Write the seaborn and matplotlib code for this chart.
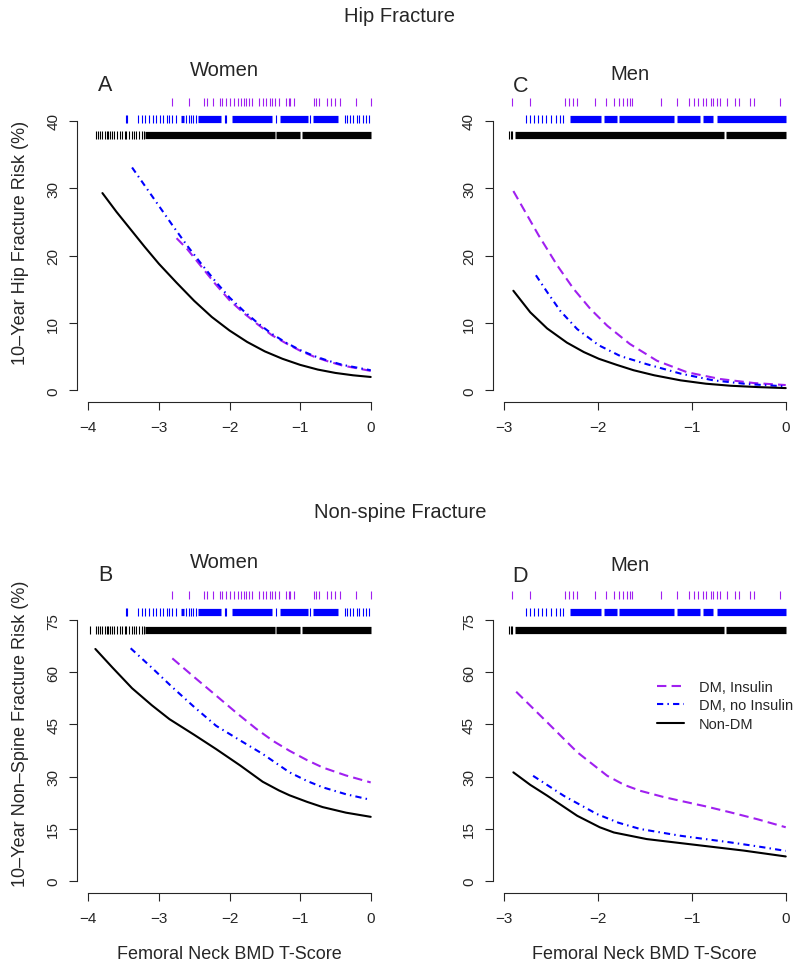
import matplotlib
matplotlib.use("Agg")
import pandas as pd
import seaborn as sns
import matplotlib.pyplot as plt
from matplotlib.lines import Line2D

# groups / styling
groups = ["DM, Insulin", "DM, no Insulin", "Non-DM"]
palette = {"DM, Insulin": "#A020F0", "DM, no Insulin": "#0000FF", "Non-DM": "black"}
dash_map = {"DM, Insulin": (4.5, 2.5), "DM, no Insulin": (3, 2, 0.7, 2), "Non-DM": ""}

# --- Hip fracture, women (panel A)
hip_w_ins_x = [-2.75, -2.6, -2.4, -2.2, -2.0, -1.8, -1.6, -1.4, -1.2, -1.0, -0.8, -0.6, -0.4, -0.2, 0.0]
hip_w_ins_y = [22.6, 21.0, 18.4, 15.8, 13.4, 11.5, 9.8, 8.2, 7.0, 5.9, 5.0, 4.3, 3.7, 3.3, 2.9]
hip_w_noins_x = [-3.38, -3.2, -3.0, -2.8, -2.6, -2.4, -2.2, -2.0, -1.8, -1.6, -1.4, -1.2, -1.0,
                 -0.8, -0.6, -0.4, -0.2, 0.0]
hip_w_noins_y = [33.1, 30.4, 27.4, 24.4, 21.5, 18.8, 16.2, 13.8, 11.8, 10.0, 8.4, 7.1, 6.0,
                 5.1, 4.4, 3.8, 3.4, 3.0]
hip_w_non_x = [-3.80, -3.60, -3.40, -3.20, -3.00, -2.75, -2.50, -2.25, -2.00, -1.75, -1.50,
               -1.25, -1.00, -0.75, -0.50, -0.25, 0.0]
hip_w_non_y = [29.3, 26.5, 23.9, 21.3, 18.8, 16.0, 13.3, 10.9, 8.9, 7.2, 5.8,
               4.7, 3.8, 3.1, 2.6, 2.25, 2.0]

# --- Hip fracture, men (panel C)
hip_m_ins_x = [-2.90, -2.63, -2.43, -2.26, -2.08, -1.90, -1.66, -1.37, -1.05, -0.70, -0.34, 0.0]
hip_m_ins_y = [29.6, 23.0, 18.5, 15.1, 12.1, 9.6, 6.9, 4.4, 2.7, 1.7, 1.1, 0.8]
hip_m_noins_x = [-2.66, -2.54, -2.40, -2.22, -1.99, -1.76, -1.48, -1.12, -0.77, -0.41, 0.0]
hip_m_noins_y = [17.1, 14.6, 11.8, 9.1, 6.7, 5.1, 3.9, 2.5, 1.5, 0.95, 0.6]
hip_m_non_x = [-2.90, -2.72, -2.54, -2.33, -2.15, -1.99, -1.80, -1.62, -1.40, -1.12, -0.85,
               -0.59, -0.30, 0.0]
hip_m_non_y = [14.8, 11.6, 9.2, 7.1, 5.7, 4.7, 3.8, 3.0, 2.25, 1.5, 1.0, 0.7, 0.5, 0.35]

# --- Non-spine fracture, women (panel B)
ns_w_ins_x = [-2.81, -2.5, -2.19, -1.9, -1.62, -1.38, -1.15, -0.9, -0.68, -0.35, 0.0]
ns_w_ins_y = [64.0, 58.6, 53.3, 48.3, 43.7, 40.2, 37.4, 34.7, 32.6, 30.3, 28.3]
ns_w_noins_x = [-3.40, -3.1, -2.81, -2.5, -2.19, -1.85, -1.53, -1.15, -0.9, -0.68, -0.35, 0.0]
ns_w_noins_y = [66.9, 61.3, 55.7, 50.0, 44.6, 40.4, 36.5, 31.2, 28.7, 26.9, 24.9, 23.3]
ns_w_non_x = [-3.90, -3.66, -3.38, -3.10, -2.85, -2.50, -2.19, -1.85, -1.53, -1.30, -1.15,
              -0.90, -0.68, -0.35, 0.0]
ns_w_non_y = [66.7, 61.4, 55.4, 50.5, 46.5, 42.0, 37.9, 33.2, 28.5, 26.0, 24.6, 22.7, 21.2,
              19.6, 18.4]

# --- Non-spine fracture, men (panel D)
ns_m_ins_x = [-2.87, -2.54, -2.22, -1.90, -1.72, -1.55, -1.30, -1.12, -0.85, -0.59, -0.30, 0.0]
ns_m_ins_y = [54.4, 45.6, 37.0, 30.2, 27.6, 25.9, 24.1, 23.0, 21.4, 19.7, 17.7, 15.4]
ns_m_noins_x = [-2.69, -2.36, -2.01, -1.78, -1.55, -1.12, -0.59, -0.30, 0.0]
ns_m_noins_y = [30.2, 24.4, 19.2, 16.7, 14.9, 12.95, 11.05, 9.9, 8.6]
ns_m_non_x = [-2.90, -2.72, -2.54, -2.22, -1.98, -1.83, -1.48, -0.95, -0.45, 0.0]
ns_m_non_y = [31.2, 27.6, 24.5, 18.7, 15.4, 13.9, 12.0, 10.3, 8.7, 7.0]

# --- rug values (T-scores), women
rug_w_ins = [-2.82, -2.58, -2.36, -2.32, -2.24, -2.13, -2.10, -2.05, -2.00, -1.94, -1.88,
             -1.84, -1.80, -1.76, -1.72, -1.68, -1.58, -1.53, -1.48, -1.43, -1.40, -1.35,
             -1.30, -1.20, -1.16, -1.14, -1.09, -0.81, -0.77, -0.73, -0.62, -0.56, -0.50,
             -0.43, -0.21, 0.00]
rug_w_noins = [-3.47, -3.45, -3.29, -3.24, -3.19, -3.14, -3.09, -3.04, -2.99, -2.94, -2.89,
               -2.85, -2.81, -2.76, -2.62, -2.58, -2.55, -2.51, -2.47, -2.07, -2.05, -1.34,
               -0.86, -0.37, -0.34, -0.30, -0.25, -0.20, -0.16, -0.11, -0.06, -0.02]
rug_w_noins_dense = [(-2.69, -2.65), (-2.45, -2.12), (-1.96, -1.40), (-1.29, -0.89), (-0.82, -0.46)]
rug_w_non = [-3.89, -3.86, -3.83, -3.80, -3.77, -3.74, -3.72, -3.69, -3.66, -3.63, -3.59,
             -3.55, -3.52, -3.48, -3.46, -3.42, -3.38, -3.35, -3.32, -3.28, -3.24, -3.21]
rug_w_non_dense = [(-3.20, -1.36), (-1.34, -1.00), (-0.98, 0.0)]
rug_w_non_extra_ns = [-3.97]

# --- rug values, men
rug_m_ins = [-2.91, -2.72, -2.35, -2.31, -2.26, -2.22, -2.03, -1.91, -1.83, -1.78, -1.73,
             -1.69, -1.66, -1.64, -1.33, -1.16, -1.03, -0.98, -0.93, -0.88, -0.85, -0.80,
             -0.77, -0.73, -0.70, -0.63, -0.54, -0.50, -0.38, -0.34, -0.06]
rug_m_noins = [-2.77, -2.72, -2.68, -2.64, -2.59, -2.55, -2.50, -2.45, -2.40, -2.37]
rug_m_noins_dense = [(-2.30, -1.97), (-1.93, -1.80), (-1.77, -1.19), (-1.16, -0.91),
                     (-0.88, -0.77), (-0.73, 0.0)]
rug_m_non = [-2.95, -2.93, -2.91]
rug_m_non_dense = [(-2.88, -0.66), (-0.64, 0.0)]

# rug heights in data units, per row (ins, noins, non)
rug_y_hip = [42.8, 40.3, 37.9]
rug_y_ns = [82.2, 77.3, 72.2]

sns.set_style("ticks")
plt.rcParams["font.family"] = ["Liberation Sans", "DejaVu Sans"]
plt.rcParams["axes.unicode_minus"] = True

W, H = 800, 970
fig = plt.figure(figsize=(W / 100, H / 100), dpi=100)


def rect(l, r, t, b):
    return [l / W, 1 - b / H, (r - l) / W, (b - t) / H]


def make_df(xs, ys):
    rows = []
    for g, x, y in zip(groups, xs, ys):
        for xi, yi in zip(x, y):
            rows.append({"tscore": xi, "risk": yi, "group": g})
    return pd.DataFrame(rows)


def panel(ax, df, rugs, rug_y, xlim, ylim, xb, yticks):
    sns.lineplot(data=df, x="tscore", y="risk", hue="group", style="group",
                 hue_order=groups, style_order=groups, palette=palette,
                 dashes=dash_map, linewidth=1.5, legend=False, ax=ax)
    for (ticks, dense), y, g in zip(rugs, rug_y, groups):
        ax.plot(ticks, [y] * len(ticks), linestyle="none", marker="|",
                markersize=5.2, markeredgewidth=0.8, color=palette[g])
        for x0, x1 in dense:
            ax.hlines(y, x0, x1, color=palette[g], linewidth=5.2)
    ax.set_xlim(*xlim)
    ax.set_ylim(*ylim)
    ax.set_xticks(range(xb, 1))
    ax.set_yticks(yticks)
    ax.spines["top"].set_visible(False)
    ax.spines["right"].set_visible(False)
    ax.spines["left"].set_bounds(yticks[0], yticks[-1])
    ax.spines["bottom"].set_bounds(xb, 0)
    for s in ("left", "bottom"):
        ax.spines[s].set_linewidth(0.8)
    ax.tick_params(axis="both", direction="out", length=6, width=0.8, labelsize=11)
    ax.tick_params(axis="x", pad=7)
    ax.tick_params(axis="y", pad=6)
    for lab in ax.get_yticklabels():
        lab.set_rotation(90)
        lab.set_va("center")
    ax.set_xlabel("")
    ax.set_ylabel("")


axA = fig.add_axes(rect(77, 382, 83.2, 403.3))
axC = fig.add_axes(rect(492.7, 797, 83.2, 403.3))
axB = fig.add_axes(rect(77, 382, 574.2, 894.3))
axD = fig.add_axes(rect(492.7, 797, 574.2, 894.3))

rugs_w = [(rug_w_ins, []), (rug_w_noins, rug_w_noins_dense), (rug_w_non, rug_w_non_dense)]
rugs_w_ns = [(rug_w_ins, []), (rug_w_noins, rug_w_noins_dense),
             (rug_w_non + rug_w_non_extra_ns, rug_w_non_dense)]
rugs_m = [(rug_m_ins, []), (rug_m_noins, rug_m_noins_dense), (rug_m_non, rug_m_non_dense)]

hip_ylim = (-1.76, 45.76)
ns_ylim = (-3.6, 88.5)

panel(axA, make_df([hip_w_ins_x, hip_w_noins_x, hip_w_non_x], [hip_w_ins_y, hip_w_noins_y, hip_w_non_y]),
      rugs_w, rug_y_hip, (-4.16, 0.16), hip_ylim, -4, [0, 10, 20, 30, 40])
panel(axC, make_df([hip_m_ins_x, hip_m_noins_x, hip_m_non_x], [hip_m_ins_y, hip_m_noins_y, hip_m_non_y]),
      rugs_m, rug_y_hip, (-3.12, 0.12), hip_ylim, -3, [0, 10, 20, 30, 40])
panel(axB, make_df([ns_w_ins_x, ns_w_noins_x, ns_w_non_x], [ns_w_ins_y, ns_w_noins_y, ns_w_non_y]),
      rugs_w_ns, rug_y_ns, (-4.16, 0.16), ns_ylim, -4, [0, 15, 30, 45, 60, 75])
panel(axD, make_df([ns_m_ins_x, ns_m_noins_x, ns_m_non_x], [ns_m_ins_y, ns_m_noins_y, ns_m_non_y]),
      rugs_m, rug_y_ns, (-3.12, 0.12), ns_ylim, -3, [0, 15, 30, 45, 60, 75])

# axis labels
axA.set_ylabel("10\u2013Year Hip Fracture Risk (%)", fontsize=13)
axB.set_ylabel("10\u2013Year Non\u2013Spine Fracture Risk (%)", fontsize=13)
for ax in (axA, axB):
    ax.yaxis.set_label_coords(-0.157, 0.5)
for ax in (axB, axD):
    ax.set_xlabel("Femoral Neck BMD T-Score", fontsize=13)
    ax.xaxis.set_label_coords(0.5, -0.16)


def ftext(x, y, s, size):
    fig.text(x / W, 1 - y / H, s, ha="center", va="center", fontsize=size)


ftext(400, 16, "Hip Fracture", 14.5)
ftext(400, 512, "Non-spine Fracture", 14.5)
for dy in (0, 491):
    ftext(224.3, 71 + dy, "Women", 14.5)
    ftext(629.7, 74.8 + dy, "Men", 14.5)
ftext(105.5, 85.5, "A", 15.5)
ftext(520.5, 86, "C", 15.5)
ftext(105.5, 575.5, "B", 15.5)
ftext(520.5, 577, "D", 15.5)

handles = [Line2D([], [], color=palette[g], linewidth=1.5, dashes=dash_map[g] if dash_map[g] else (None, None))
           for g in groups]
axD.legend(handles, groups, loc="upper left", frameon=False, fontsize=10.5,
           bbox_to_anchor=(656.7 / W, 1 - 681 / H), bbox_transform=fig.transFigure,
           borderpad=0, borderaxespad=0, handlelength=1.9, handletextpad=1.0, labelspacing=0.3)

fig.savefig("out.png", dpi=100)
